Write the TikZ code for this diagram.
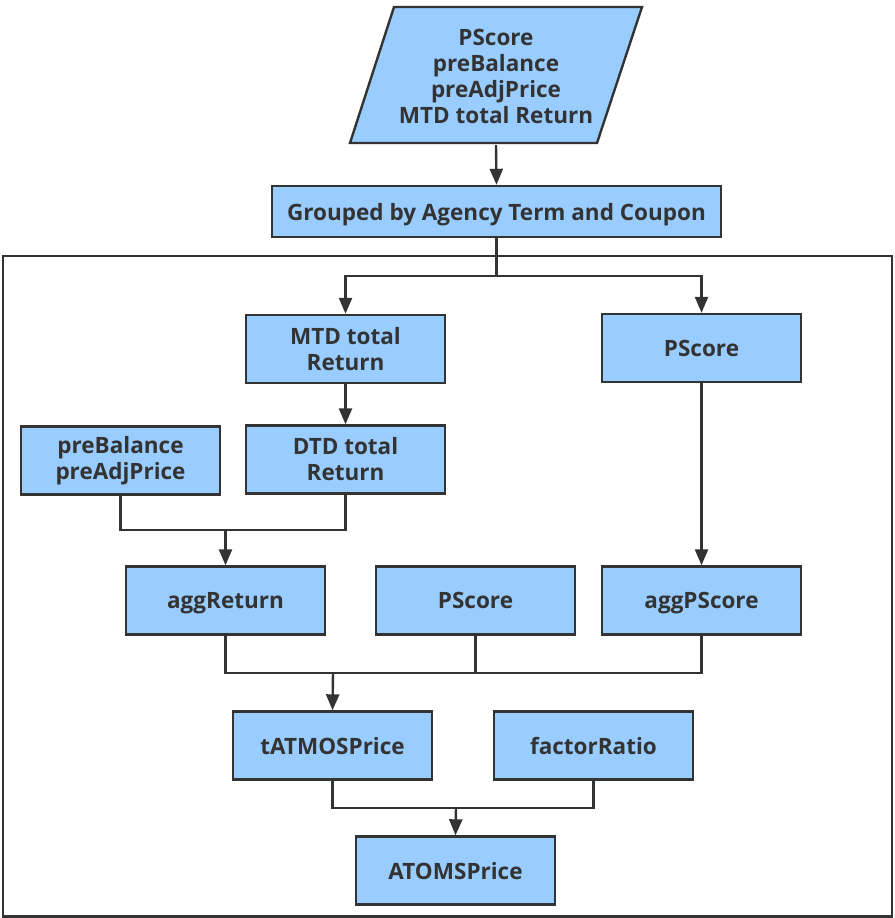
\documentclass[tikz,border=0pt]{standalone}
\usepackage{fontspec}
\setmainfont{Open Sans}
\usetikzlibrary{arrows.meta}
\definecolor{boxc}{HTML}{99CCFF}
\definecolor{linec}{HTML}{333333}
\definecolor{textc}{HTML}{333333}
\begin{document}
\begin{tikzpicture}[x=1pt,y=-1pt,
  box/.style={draw=linec, fill=boxc, line width=2.4pt, minimum width=199pt, minimum height=68pt,
    inner sep=0pt, align=center, text=textc, font=\bfseries\fontsize{22.5}{26}\selectfont},
  one/.style={text depth=0pt},
  conn/.style={draw=linec, line width=2.4pt},
  arr/.style={conn, -{Triangle[width=13pt,length=16pt]}}]
\useasboundingbox (0,0) rectangle (894,918);
% outer frame
\draw[conn] (3,256) rectangle (892,916.5);
% input parallelogram
\fill[boxc] (394,7) -- (642,7) -- (597,143) -- (350,143) -- cycle;
\draw[conn, line join=miter] (394,7) -- (642,7) -- (597,143) -- (350,143) -- cycle;
\node[box, draw=none, fill=none, minimum width=240pt, minimum height=136pt] (inp) at (496,76)
  {PScore\\preBalance\\preAdjPrice\\MTD total Return};
\node[box, one, minimum width=449pt, minimum height=51pt] (grp) at (496.5,211.5) {Grouped by Agency Term and Coupon};
\node[box, minimum height=68pt] (mtd) at (345.5,349) {MTD total\\Return};
\node[box, one, minimum height=68pt] (ps1) at (701.5,348) {PScore};
\node[box, minimum height=68pt] (pre) at (120.5,460.5) {preBalance\\preAdjPrice};
\node[box, minimum height=68pt] (dtd) at (345.5,459.5) {DTD total\\Return};
\node[box, one] (aggr) at (225.5,600.5) {aggReturn};
\node[box, one] (ps2) at (475.5,600.5) {PScore};
\node[box, one] (aggp) at (701.5,600.5) {aggPScore};
\node[box, one] (tat) at (332.5,745.5) {tATMOSPrice};
\node[box, one] (fac) at (593.5,745.5) {factorRatio};
\node[box, one] (atoms) at (455.5,870.5) {ATOMSPrice};
% connectors
\draw[arr] (inp.south) -- (grp.north);
\coordinate (j1) at (496.5,276);
\draw[conn] (grp.south) -- (j1);
\draw[arr] (j1) -| (mtd.north);
\draw[arr] (j1) -| (ps1.north);
\draw[arr] (mtd) -- (dtd);
\draw[arr] (ps1) -- (aggp);
\coordinate (j2) at (225.5,530);
\draw[conn] (pre.south) |- (j2) -| (dtd.south);
\draw[arr] (j2) -- (aggr.north);
\coordinate (j3) at (333,673);
\draw[conn] (aggr.south) |- (j3) -| (aggp.south);
\draw[conn] (ps2.south) -- (ps2.south |- j3);
\draw[arr] (j3) -- (tat.north);
\coordinate (j4) at (456,808);
\draw[conn] (tat.south) |- (j4) -| (fac.south);
\draw[arr] (j4) -- (atoms.north);
\end{tikzpicture}
\end{document}
